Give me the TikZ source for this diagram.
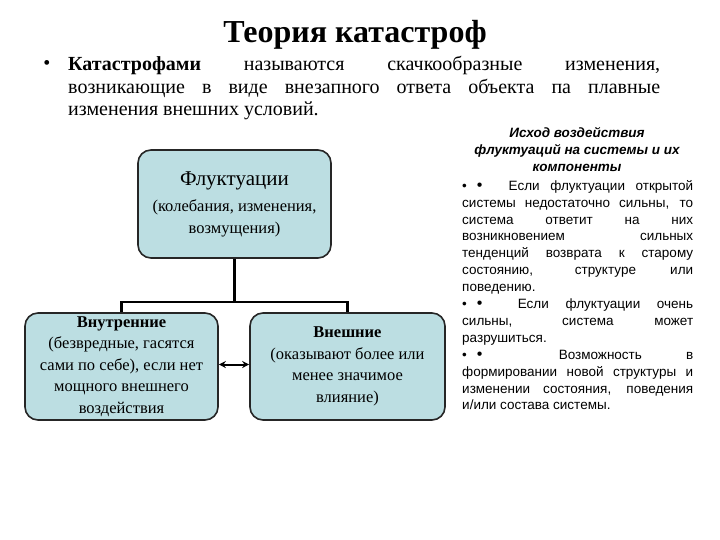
\documentclass[tikz,border=0pt]{standalone}
\usepackage{fontspec}
\setmainfont{Liberation Serif}
\newfontfamily\arialf{Liberation Sans}
\usetikzlibrary{arrows.meta}
\definecolor{boxfill}{RGB}{188,222,226}
\newcommand{\twobul}{•\hspace{10pt}{\fontsize{16}{16}\selectfont •}\hspace{16pt plus 2.8pt minus 1pt}}
\begin{document}
\begin{tikzpicture}[x=1pt,y=-1pt,
  box/.style={draw=black!85,line width=1.6pt,fill=boxfill,rounded corners=13pt,align=center,inner sep=0pt},
  link/.style={line width=2.4pt,black},
  boxtext/.style={font=\fontsize{16.5}{21.5}\selectfont}]
\fill[white] (0,0) rectangle (720,540);
\useasboundingbox (0,0) rectangle (720,540);
\node[font=\bfseries\fontsize{32}{36}\selectfont, anchor=base] (title) at (355,43) {Теория катастроф};
\node[font=\fontsize{20}{22.5}\selectfont, anchor=base] (bul) at (47,70) {•};
\node[font=\fontsize{20}{22.5}\selectfont, text width=592pt, align=justify, anchor=north west, inner sep=0pt] (def) at (68,56) {\parindent=0pt \textbf{Катастрофами} называются скачкообразные изменения,\linebreak возникающие в виде внезапного ответа объекта па плавные\linebreak изменения внешних условий.};
\node[box, minimum width=193pt, minimum height=108pt, font=\fontsize{16.5}{21.5}\selectfont] (fluct) at (234.5,204) {{\fontsize{21}{25}\selectfont Флуктуации}\\[5pt](колебания, изменения,\\возмущения)};
\node[box, boxtext, minimum width=193pt, minimum height=107pt] (inner) at (121.5,366.5) {\textbf{Внутренние}\\(безвредные, гасятся\\сами по себе), если нет\\мощного внешнего\\воздействия};
\node[box, boxtext, minimum width=195pt, minimum height=107pt] (outer) at (347.5,366.5) {\textbf{Внешние}\\(оказывают более или\\менее значимое\\влияние)};
\coordinate (j) at (234.5,302);
\draw[link] (fluct.south) -- (j);
\draw[link] (inner.north) |- (j) -| (outer.north);
\draw[link, line width=2pt, {Stealth[length=7pt,width=7pt]}-{Stealth[length=7pt,width=7pt]}] ([yshift=2pt]inner.east) -- ([yshift=2pt]outer.west);
\node[font=\arialf\bfseries\itshape\fontsize{13.5}{17}\selectfont, align=center, anchor=north, inner sep=0pt] (head) at (577,127) {Исход воздействия\\флуктуаций на системы и их\\компоненты};
\node[font=\arialf\fontsize{13.5}{16.9}\selectfont, text width=231pt, align=justify, anchor=north west, inner sep=0pt] (body) at (462,180) {\parindent=0pt \twobul Если флуктуации открытой\linebreak системы недостаточно сильны, то\linebreak система ответит на них\linebreak возникновением сильных\linebreak тенденций возврата к старому\linebreak состоянию, структуре или\linebreak поведению.\par \twobul Если флуктуации очень\linebreak сильны, система может\linebreak разрушиться.\par \twobul Возможность в\linebreak формировании новой структуры и\linebreak изменении состояния, поведения\linebreak и/или состава системы.};
\end{tikzpicture}
\end{document}
